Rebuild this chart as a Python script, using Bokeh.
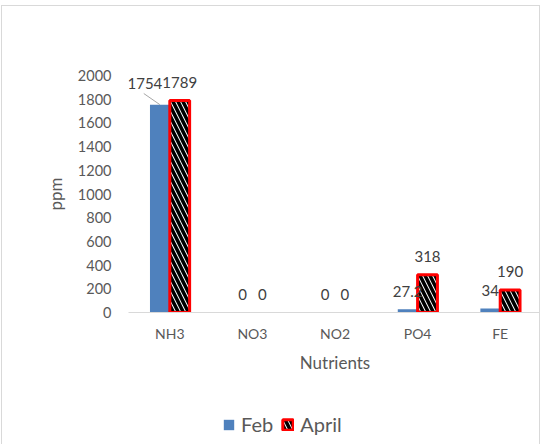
from bokeh.plotting import figure
from bokeh.models import (ColumnDataSource, FactorRange, Range1d, FixedTicker,
                          Legend, LegendItem)
from bokeh.layouts import column
from bokeh.transform import dodge
from bokeh.core.properties import value
from bokeh.embed import file_html
from bokeh.resources import INLINE

# ---- data ----
categories = ["NH3", "NO3", "NO2", "PO4", "FE"]
feb = [1754, 0, 0, 27.2, 34]
april = [1789, 0, 0, 318, 190]
feb_labels = ["1754", "0", "0", "27.2", "34"]
april_labels = ["1789", "0", "0", "318", "190"]
y_ticks = [0, 200, 400, 600, 800, 1000, 1200, 1400, 1600, 1800, 2000]
series_names = ["Feb", "April"]
x_title = "Nutrients"
y_title = "ppm"

FONT = "Lato"
GRAY = "#595959"
BLUE = "#4F81BD"
RED = "#FF0000"
EDGE = "1.5px solid #D9D9D9"

# zero-height bars get no outline (as in the reference)
apr_line = [RED if v > 0 else None for v in april]
x_off = [-15, 0, 0, 0, 0]
y_off = [-21, -18, -18, -18, -18]

src = ColumnDataSource(dict(cat=categories, feb=feb, april=april,
                            feb_lbl=feb_labels, apr_lbl=april_labels,
                            apr_line=apr_line, xo=x_off, yo=y_off))

bar_feb = dict(fill_color=BLUE, line_color=None)
bar_apr = dict(fill_color="white", line_width=3, line_color="apr_line",
               hatch_pattern="left_diagonal_line", hatch_color="black",
               hatch_weight=3.5, hatch_scale=10)

# ---------------- chart ----------------
xr = FactorRange(*categories, range_padding=0)
p = figure(width=539, height=385, x_range=xr,
           y_range=Range1d(0, 2000), output_backend="svg", toolbar_location=None,
           min_border_left=126, min_border_right=0, min_border_top=69,
           min_border_bottom=79)
p.styles = {"margin-left": "1px", "margin-top": "5px",
            "border-top": EDGE, "border-left": EDGE, "border-right": EDGE,
            "box-sizing": "border-box"}
p.outline_line_color = None
p.xgrid.visible = False
p.ygrid.visible = False

w = 0.24
p.vbar(x=dodge("cat", -0.12, range=xr), top="feb", width=w, source=src, **bar_feb)
p.vbar(x=dodge("cat", 0.12, range=xr), top="april", width=w, source=src, **bar_apr)

# data labels
p.text(x=dodge("cat", -0.12, range=xr), y="feb", text="feb_lbl", source=src,
       x_offset="xo", y_offset="yo", text_align="center", text_baseline="middle",
       text_font=value(FONT), text_font_size="15px", text_color="#404040")
p.text(x=dodge("cat", 0.12, range=xr), y="april", text="apr_lbl", source=src,
       y_offset=-18, text_align="center", text_baseline="middle",
       text_font=value(FONT), text_font_size="15px", text_color="#404040")

# leader line for the first Feb label
lead = ColumnDataSource(dict(cat=[categories[0]], y0=[feb[0] + 94], y1=[feb[0]]))
p.segment(x0=dodge("cat", -0.315, range=xr), y0="y0",
          x1=dodge("cat", -0.12, range=xr), y1="y1", source=lead,
          line_color="#A6A6A6", line_width=1)

# axes
p.yaxis.ticker = FixedTicker(ticks=y_ticks)
p.yaxis.axis_line_color = None
p.yaxis.major_tick_line_color = None
p.yaxis.major_tick_out = 0
p.yaxis.major_tick_in = 0
p.yaxis.minor_tick_line_color = None
p.yaxis.major_label_standoff = 17
p.yaxis.major_label_text_font = FONT
p.yaxis.major_label_text_font_size = "14.5px"
p.yaxis.major_label_text_color = GRAY
p.yaxis.axis_label = y_title
p.yaxis.axis_label_text_font = FONT
p.yaxis.axis_label_text_font_size = "17px"
p.yaxis.axis_label_text_font_style = "normal"
p.yaxis.axis_label_text_color = GRAY
p.yaxis.axis_label_standoff = 9

p.xaxis.axis_line_color = "#D9D9D9"
p.xaxis.major_tick_line_color = None
p.xaxis.major_tick_out = 0
p.xaxis.major_tick_in = 0
p.xaxis.minor_tick_line_color = None
p.xaxis.major_label_standoff = 12
p.xaxis.major_label_text_font = FONT
p.xaxis.major_label_text_font_size = "14px"
p.xaxis.major_label_text_color = GRAY
p.xaxis.axis_label = x_title
p.xaxis.axis_label_text_font = FONT
p.xaxis.axis_label_text_font_size = "17px"
p.xaxis.axis_label_text_font_style = "normal"
p.xaxis.axis_label_text_color = GRAY
p.xaxis.axis_label_standoff = 7

# ---------------- legend strip ----------------
# same series as hidden renderers, so that only their legend swatches show
q = figure(width=539, height=54, x_range=xr, y_range=Range1d(0, 2000),
           output_backend="svg", toolbar_location=None,
           x_axis_type=None, y_axis_type=None,
           min_border_left=0, min_border_right=0, min_border_top=0, min_border_bottom=0)
q.styles = {"margin-left": "1px", "border-left": EDGE, "border-right": EDGE,
            "box-sizing": "border-box"}
q.outline_line_color = None
q.xgrid.visible = False
q.ygrid.visible = False
k_feb = q.vbar(x=dodge("cat", -0.12, range=xr), top="feb", width=w, source=src, **bar_feb)
k_apr = q.vbar(x=dodge("cat", 0.12, range=xr), top="april", width=w, source=src, **bar_apr)
k_feb.visible = False
k_apr.visible = False

legend = Legend(items=[LegendItem(label=series_names[0], renderers=[k_feb], index=0),
                       LegendItem(label=series_names[1], renderers=[k_apr], index=0)],
                location=(94, 8), orientation="horizontal",
                label_text_font=FONT, label_text_font_size="20px",
                label_text_color=GRAY, glyph_width=13, glyph_height=13,
                label_standoff=6, spacing=8, padding=0, margin=0,
                border_line_color=None, background_fill_alpha=0,
                inactive_fill_alpha=0)
q.add_layout(legend, "center")

layout = column(p, q, spacing=0)
open("out.html", "w").write(file_html(layout, INLINE))
